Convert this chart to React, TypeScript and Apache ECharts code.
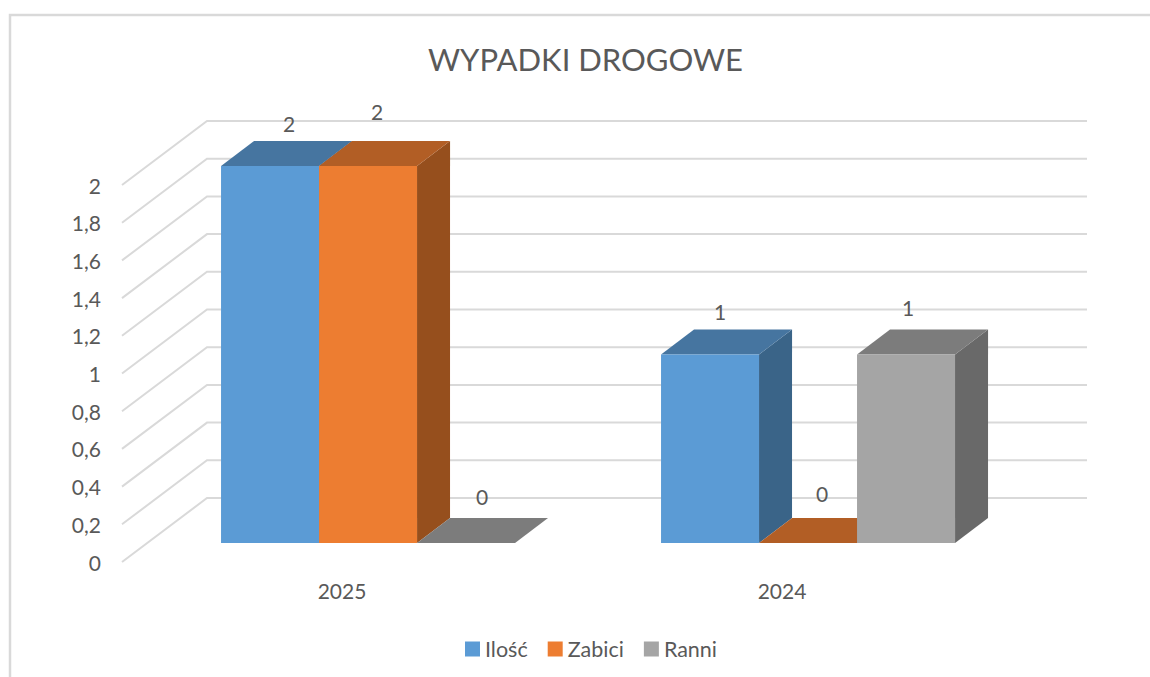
import React, { useEffect, useRef } from "react";
import * as echarts from "echarts";

const categories = ["2025", "2024"];
const seriesNames = ["Ilość", "Zabici", "Ranni"];
const ilosc = [2, 1];
const zabici = [2, 0];
const ranni = [0, 1];
const yTicks = [0, 0.2, 0.4, 0.6, 0.8, 1, 1.2, 1.4, 1.6, 1.8, 2];

const FONT = "Lato";
const TEXT = "#595959";
const GRID = "#D9D9D9";

// front, top, side face colours for each series
const faces = [
  ["#5B9BD5", "#4675A0", "#3A6488"],
  ["#ED7D31", "#B25E25", "#964F1D"],
  ["#A5A5A5", "#7C7C7C", "#696969"],
];

// Floor depth vector of the 3D box, and bar placement inside it
const WALL_DX = 85;
const WALL_DY = -64;
const BAR_FRONT = 19 / 64; // how far back the front face of a bar sits
const BAR_NUDGE = 0.8;
const BAR_DX = 33;
const BAR_DY = -25;
const BAR_W = 98 / 440; // fraction of a category band

// hand-placed label offsets from the top-centre of each front face [series][category]
const labelOffsets = [
  [[19, -43], [10, -43]],
  [[9, -55], [14, -50]],
  [[16, -47], [2, -47]],
];

function wallItem(params: any, api: any) {
  const v = api.value(1);
  const c = params.coordSys;
  const p = api.coord([0, v]);
  const x0 = c.x;
  const y0 = p[1];
  return {
    type: "polyline",
    silent: true,
    shape: {
      points: [
        [x0, y0],
        [x0 + WALL_DX, y0 + WALL_DY],
        [x0 + c.width + WALL_DX, y0 + WALL_DY],
      ],
    },
    style: { stroke: GRID, lineWidth: 2, fill: "none" },
  };
}

function barRenderer(seriesIndex: number) {
  return (params: any, api: any) => {
    const cat = api.value(0);
    const val = api.value(1);
    const band = api.size([1, 0])[0];
    const w = band * BAR_W;
    const base = api.coord([cat, 0]);
    const top = api.coord([cat, val]);
    const sx = WALL_DX * BAR_FRONT + BAR_NUDGE;
    const sy = WALL_DY * BAR_FRONT;
    const left = base[0] + sx + (seriesIndex - 1.5) * w;
    const right = left + w;
    const yb = base[1] + sy;
    const yt = top[1] + sy;
    const [front, topC, side] = faces[seriesIndex];
    const off = labelOffsets[seriesIndex][cat];
    const poly = (points: number[][], fill: string) => ({
      type: "polygon",
      silent: true,
      shape: { points },
      style: { fill, stroke: "none" },
    });
    return {
      type: "group",
      children: [
        poly(
          [[right, yt], [right + BAR_DX, yt + BAR_DY], [right + BAR_DX, yb + BAR_DY], [right, yb]],
          side
        ),
        poly(
          [[left, yt], [left + BAR_DX, yt + BAR_DY], [right + BAR_DX, yt + BAR_DY], [right, yt]],
          topC
        ),
        poly([[left, yt], [right, yt], [right, yb], [left, yb]], front),
        {
          type: "text",
          silent: true,
          z2: 50,
          style: {
            text: String(val),
            x: (left + right) / 2 + off[0],
            y: yt + off[1],
            align: "center",
            verticalAlign: "middle",
            fill: TEXT,
            fontFamily: FONT,
            fontSize: 21,
          },
        },
      ],
    };
  };
}

export default function App() {
  const ref = useRef<HTMLDivElement>(null);

  useEffect(() => {
    document.body.style.margin = "0";
    const chart = echarts.init(ref.current!, null, { renderer: "svg" });
    const values = [ilosc, zabici, ranni];
    chart.setOption({
      animation: false,
      backgroundColor: "#FFFFFF",
      title: {
        text: "WYPADKI DROGOWE",
        left: 580.5,
        top: 38,
        textAlign: "center",
        textStyle: { color: TEXT, fontFamily: FONT, fontSize: 31, fontWeight: "normal" },
      },
      legend: {
        data: seriesNames,
        left: 460,
        top: 633,
        icon: "rect",
        itemWidth: 15,
        itemHeight: 15,
        itemGap: 20,
        selectedMode: false,
        textStyle: { color: TEXT, fontFamily: FONT, fontSize: 21.5 },
      },
      grid: { left: 122, top: 185, width: 880, height: 377 },
      xAxis: {
        type: "category",
        data: categories,
        axisLine: { show: false },
        axisTick: { show: false },
        splitLine: { show: false },
        axisLabel: { color: TEXT, fontFamily: FONT, fontSize: 21, margin: 18 },
      },
      yAxis: {
        type: "value",
        min: 0,
        max: 2,
        interval: 0.2,
        axisLine: { show: false },
        axisTick: { show: false },
        splitLine: { show: false },
        axisLabel: {
          color: TEXT,
          fontFamily: FONT,
          fontSize: 21,
          margin: 21,
          padding: [0, 0, 4, 0],
          formatter: (v: number) => String(v).replace(".", ","),
        },
      },
      graphic: [
        {
          type: "polyline",
          silent: true,
          shape: { points: [[10, 677], [10, 15], [1150, 15]] },
          style: { stroke: GRID, lineWidth: 2.5, fill: "none" },
        },
      ],
      series: [
        {
          type: "custom",
          name: "siatka",
          silent: true,
          clip: false,
          z: 1,
          data: yTicks.map((t) => [0, t]),
          renderItem: wallItem,
        },
        ...seriesNames.map((name, i) => ({
          type: "custom",
          name,
          silent: true,
          clip: false,
          z: 2 + i,
          itemStyle: { color: faces[i][0] },
          data: values[i].map((v, c) => [c, v]),
          renderItem: barRenderer(i),
        })),
      ],
    });
    return () => chart.dispose();
  }, []);

  return <div ref={ref} style={{ width: 1150, height: 677 }} />;
}
